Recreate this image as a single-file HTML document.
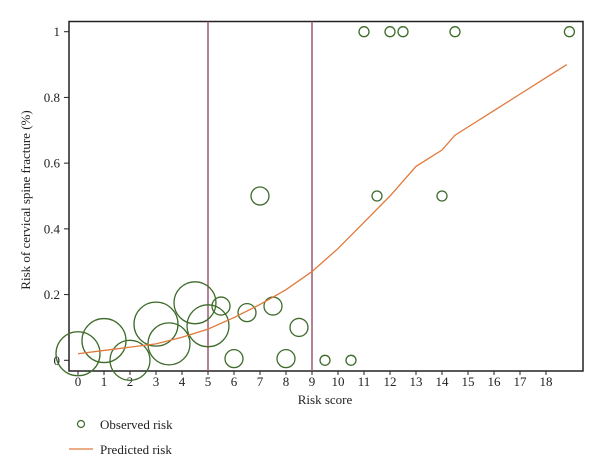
<!DOCTYPE html>
<html><head><meta charset="utf-8"><style>
body{margin:0;background:#fff;}
svg{display:block;font-family:"Liberation Serif",serif;}
</style></head><body>
<svg id="chart" width="600" height="474">
<rect x="69" y="21.5" width="514" height="349.5" fill="none" stroke="#222" stroke-width="1.5"/>
<g id="g"></g>
<text x="325" y="404" font-size="13" text-anchor="middle" fill="#222">Risk score</text>
<text transform="translate(30,200) rotate(-90)" font-size="13" text-anchor="middle" fill="#222">Risk of cervical spine fracture (%)</text>
<circle cx="81" cy="424" r="3.5" fill="none" stroke="#3d6b2a" stroke-width="1.2"/>
<text x="100" y="429" font-size="13" fill="#222">Observed risk</text>
<line x1="69" y1="449" x2="93" y2="449" stroke="#e07a3c" stroke-width="1.3"/>
<text x="100" y="454" font-size="13" fill="#222">Predicted risk</text>
</svg>
<script>
const xTicks=[0,1,2,3,4,5,6,7,8,9,10,11,12,13,14,15,16,17,18];
const yTicks=[0,0.2,0.4,0.6,0.8,1];
const yTickLabels=["0","0.2","0.4","0.6","0.8","1"];
const obsScore=[0,1,2,3,3.5,4.5,5,5.5,6,6.5,7,7.5,8,8.5,9.5,10.5,11,11.5,12,12.5,14,14.5,18.9];
const obsRisk=[0.02,0.06,0,0.11,0.05,0.175,0.105,0.165,0.005,0.145,0.5,0.165,0.005,0.1,0,0,1,0.5,1,1,0.5,1,1];
const obsSize=[22,22,20,22,21,21,21,9,9,9,9,9,9,9,5,5,5,5,5,5,5,5,5];
const predScore=[0,1,2,3,4,5,6,7,8,9,10,11,12,13,14,14.5,15,16,17,18,18.8];
const predRisk=[0.02,0.03,0.04,0.05,0.07,0.095,0.13,0.17,0.215,0.27,0.34,0.42,0.5,0.59,0.64,0.685,0.71,0.76,0.81,0.86,0.9];
const cutoffs=[5,9];
const X=v=>78+v*26, Y=v=>360.3-v*328.6;
const g=document.getElementById('g'), NS='http://www.w3.org/2000/svg';
function mk(t,a){const e=document.createElementNS(NS,t);for(const k in a)e.setAttribute(k,a[k]);g.appendChild(e);return e;}
xTicks.forEach(v=>{
 const l=mk('line',{x1:X(v),x2:X(v),y1:371,y2:375,stroke:'#222'});
 
 
 const t=mk('text',{x:X(v),y:386,'font-size':13,'text-anchor':'middle',fill:'#222'});t.textContent=v;
 
 
});
yTicks.forEach((v,i)=>{
 const l=mk('line',{x1:64,x2:69,y1:Y(v),y2:Y(v),stroke:'#222'});
 
 
 const t=mk('text',{x:60,y:Y(v)+4.5,'font-size':13,'text-anchor':'end',fill:'#222'});t.textContent=yTickLabels[i];
 
 
});
cutoffs.forEach(v=>{
 const l=mk('line',{x1:X(v),x2:X(v),y1:21.5,y2:371,stroke:'#9c5a72','stroke-width':1.5});
 
 
});
obsScore.forEach((s,i)=>{
 const c=mk('circle',{cx:X(s),cy:Y(obsRisk[i]),r:obsSize[i],fill:'none',stroke:'#3d6b2a','stroke-width':1.3});
 
 
});
const p=mk('polyline',{points:predScore.map((s,i)=>X(s)+','+Y(predRisk[i])).join(' '),fill:'none',stroke:'#e07a3c','stroke-width':1.3});


</script>
</body></html>
